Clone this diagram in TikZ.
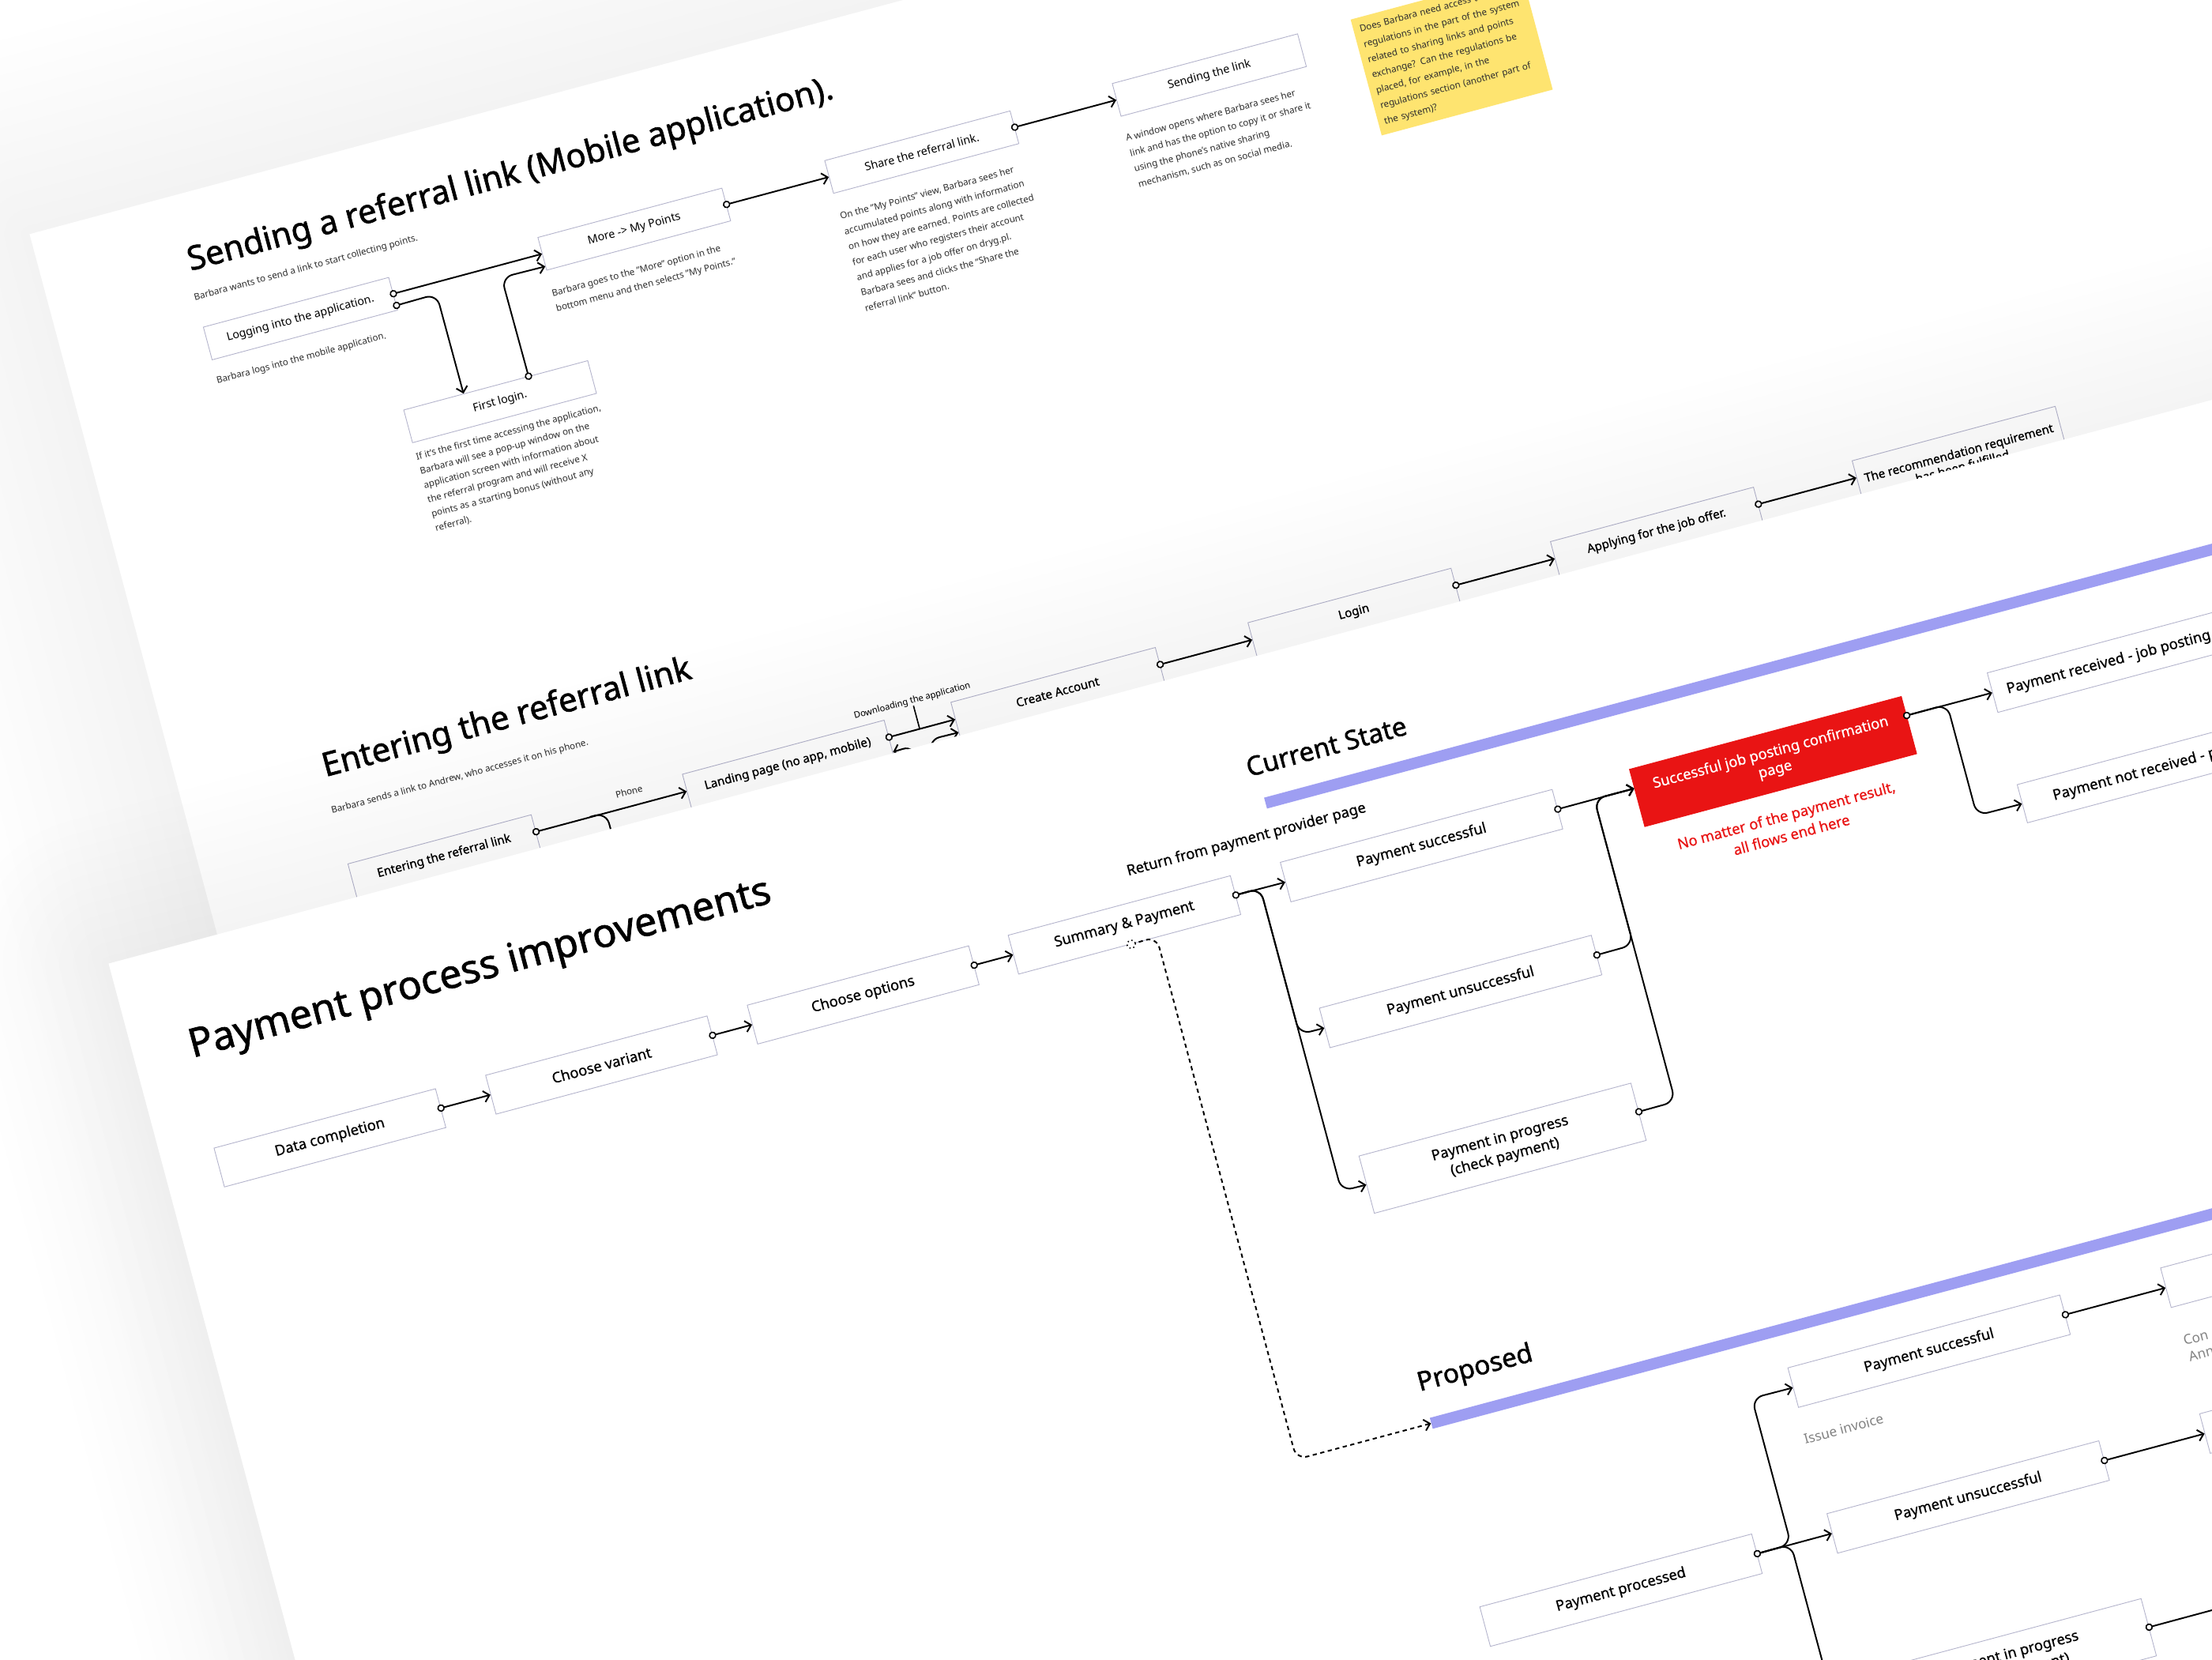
\documentclass[tikz,border=0pt]{standalone}
\usepackage{fontspec}
\setmainfont{Noto Sans}
\newfontfamily\titlefont[FakeBold=1.4]{Noto Sans}
\newfontfamily\labelfont[FakeBold=0.6]{Noto Sans}
\usetikzlibrary{arrows.meta,calc}
\definecolor{boxline}{RGB}{180,180,204}
\definecolor{barpurple}{RGB}{158,158,242}
\definecolor{redbox}{RGB}{233,20,20}
\definecolor{stickyyellow}{RGB}{254,228,112}
\definecolor{desctext}{RGB}{45,45,45}
\definecolor{softgray}{RGB}{130,130,130}
\newcommand{\fsz}[2]{\fontsize{#1}{#2}\selectfont}
\begin{document}
\begin{tikzpicture}[x=1pt,y=-1pt,
  stepbox/.style={draw=boxline, line width=0.5pt, fill=white, anchor=north west, inner sep=0pt, align=center},
  sendbox/.style={stepbox, font=\fsz{8}{10}\bfseries, minimum height=24pt},
  entbox/.style={stepbox, font=\labelfont\fsz{8.5}{10}, minimum height=25pt},
  paybox/.style={stepbox, font=\labelfont\fsz{10.3}{13.5}, minimum height=29pt, minimum width=199.5pt},
  conn/.style={line width=1.1pt, -{Straight Barb[length=4pt,width=8pt]}, rounded corners=8pt},
  plainline/.style={line width=1.1pt, rounded corners=8pt},
  dotc/.style={line width=0.9pt, fill=white},
  desc/.style={anchor=north west, inner sep=0pt, align=left, text=desctext, font=\fsz{6.5}{11.3}},
  oneline/.style={anchor=base west, inner sep=0pt, text=desctext, font=\fsz{6.5}{8}},
  bigtitle/.style={anchor=base west, inner sep=0pt, font=\titlefont\fsz{23.5}{28}},
  bar/.style={fill=barpurple, anchor=west, minimum width=1500pt, minimum height=8pt, inner sep=0pt},
  paytext/.style={anchor=base west, inner sep=0pt, font=\labelfont\fsz{10.3}{12}},
]
\useasboundingbox (0,0) rectangle (1568,1176);
\clip (0,0) rectangle (1568,1176);
\fill[white] (0,0) rectangle (1568,1176);
\begin{scope}[rotate=15, transform shape]
% ---------------- sheet 1 ----------------
\foreach \w in {12,36,...,276} {
  \draw[line width=\w pt, draw=black, opacity=0.0055, line join=round] (-22.7,165.7) -- (3000,165.7) -- (3000,3000) -- (-22.7,3000) -- cycle;
}
\fill[white] (-22.7,165.7) -- (3000,165.7) -- (3000,3000) -- (-22.7,3000) -- cycle;

% Sending a referral link
\node[bigtitle] (t1) at (80.7,220.4) {Sending a referral link (Mobile application).};
\node[oneline] (s1) at (78.2,241.4) {Barbara wants to send a link to start collecting points.};
\node[sendbox, minimum width=136pt] (log) at (79,261) {Logging into the application.};
\node[oneline] (d1) at (78.3,302.6) {Barbara logs into the mobile application.};
\node[sendbox, minimum width=135pt] (more) at (324.5,261) {More -> My Points};
\node[desc] (d2) at (324,299.3) {Barbara goes to the "More" option in the\\bottom menu and then selects "My Points."};
\node[sendbox, minimum width=136pt] (share) at (535,261) {Share the referral link.};
\node[desc] (d3) at (535.5,299.3) {On the "My Points" view, Barbara sees her\\accumulated points along with information\\on how they are earned. Points are collected\\for each user who registers their account\\and applies for a job offer on dryg.pl.\\Barbara sees and clicks the "Share the\\referral link" button.};
\node[sendbox, minimum width=136pt] (sendl) at (746,261) {Sending the link};
\node[desc] (d4) at (745.5,298.3) {A window opens where Barbara sees her\\link and has the option to copy it or share it\\using the phone's native sharing\\mechanism, such as on social media.};
\node[sendbox, minimum width=135pt] (first) at (201,354.5) {First login.};
\node[desc, font=\fsz{6.5}{10.5}] (d5) at (201,386.2) {If it's the first time accessing the application,\\Barbara will see a pop-up window on the\\application screen with information about\\the referral program and will receive X\\points as a starting bonus (without any\\referral).};

\coordinate (logA) at (log.east);
\coordinate (logB) at ($(log.east)!0.7!(log.south east)$);
\coordinate (firstIn) at ($(first.north west)!0.326!(first.north east)$);
\coordinate (firstOut) at ($(first.north west)!0.678!(first.north east)$);
\coordinate (moreIn) at ($(more.west)!0.75!(more.south west)$);
\coordinate (k1) at (245,281.4);
\coordinate (k2) at (292.5,282);
\draw[conn] (logA) -- (more.west);
\draw[conn] (logB) -- (k1) -- (firstIn);
\draw[conn] (firstOut) -- (k2) -- (moreIn);
\draw[conn] (more.east) -- (share.west);
\draw[conn] (share.east) -- (sendl.west);
\foreach \p in {logA,logB,firstOut,more.east,share.east} \draw[dotc] (\p) circle (2.2pt);

% sticky note
\node[fill=stickyyellow, anchor=north west, minimum width=125.5pt, minimum height=85pt, inner xsep=4.5pt, inner ysep=0pt, text width=116.5pt, align=left, text=desctext, font=\fsz{6.5}{11.25}] (sticky) at (921,261) {Does Barbara need access to the\\regulations in the part of the system\\related to sharing links and points\\exchange? Can the regulations be\\placed, for example, in the\\regulations section (another part of\\the system)?};

% Entering the referral link
\node[bigtitle] (t2) at (80.1,591.6) {Entering the referral link};
\node[oneline] (s2) at (78,618) {Barbara sends a link to Andrew, who accesses it on his phone.};
\node[entbox, minimum width=134.5pt] (ent) at (79.5,655) {Entering the referral link};
\node[entbox, minimum width=148pt] (land) at (325,655) {Landing page (no app, mobile)};
\node[entbox, minimum width=150pt] (create) at (522,655) {Create Account};
\node[entbox, minimum width=149pt] (login) at (740,655) {Login};
\node[entbox, minimum width=149pt] (apply) at (962,655) {Applying for the job offer.};
\node[entbox, minimum width=149pt, minimum height=38pt] (recom) at (1183.4,655) {The recommendation requirement\\has been fulfilled};

\draw[conn] (ent.east) -- (land.west);
\node[inner sep=0pt, text=desctext, font=\fsz{6.5}{8}] (phone) at (285.5,657.3) {Phone};
\draw[plainline] (254,667.5) -- (266,667.5) -- (266,700);
\draw[conn] (land.east) -- (create.west);
\node[anchor=base, inner sep=0pt, font=\fsz{6.3}{8}\bfseries] (dl) at (496,649) {Downloading the application};
\draw[line width=0.9pt] (dl.south) -- ++(0,16.5);
\coordinate (landIn) at ($(land.east)!0.85!(land.south east)$);
\coordinate (createIn) at ($(create.west)!0.75!(create.south west)$);
\draw[conn] (489,705) -- (489,678.1) -- (landIn);
\draw[conn] (500,705) -- (500,676.9) -- (createIn);
\draw[conn] (create.east) -- (login.west);
\draw[conn] (login.east) -- (apply.west);
\coordinate (recIn) at ($(recom.north west)!0.33!(recom.south west)$);
\draw[conn] (apply.east) -- (recIn);
\foreach \p in {ent.east,land.east,create.east,login.east,apply.east} \draw[dotc] (\p) circle (2.2pt);

% ---------------- sheet 3 ----------------
\foreach \w in {10,30,...,210} {
  \draw[line width=\w pt, draw=black, opacity=0.0032, line join=round] (-102.4,679.6) -- (3000,679.6) -- (3000,3000) -- (-102.4,3000) -- cycle;
}
\fill[white] (-102.4,679.6) -- (3000,679.6) -- (3000,3000) -- (-102.4,3000) -- cycle;

\node[anchor=base west, inner sep=0pt, font=\titlefont\fsz{28.2}{33}] (t3) at (-62.3,759.5) {Payment process improvements};
\node[paybox, minimum width=162.5pt, minimum height=28.5pt] (data) at (-64.3,825) {Data completion};
\node[paybox, minimum width=162.5pt, minimum height=28.5pt] (variant) at (135,825) {Choose variant};
\node[paybox, minimum width=162.5pt, minimum height=28.5pt] (options) at (327,825) {Choose options};
\node[paybox, minimum width=163pt, minimum height=28.5pt] (summ) at (518.5,825) {Summary \& Payment};
\draw[conn] (data.east) -- (variant.west);
\draw[conn] (variant.east) -- (options.west);
\draw[conn] (options.east) -- (summ.west);
\node[paytext] (ret) at (611.7,806.5) {Return from payment provider page};

% current state
\node[bar] (cbar) at (719,782) {};
\node[anchor=base west, inner sep=0pt, font=\titlefont\fsz{18.7}{22}] (cur) at (712.5,761) {Current State};
\node[paybox] (cps) at (718.2,825) {Payment successful};
\node[paybox] (cpu) at (718.2,932) {Payment unsuccessful};
\node[paybox, minimum height=42pt] (cpip) at (718.2,1040.5) {Payment in progress\\(check payment)};
\draw[conn] (summ.east) -- (cps.west);
\draw[conn] (summ.east) -- (700,839.3) -- (700,946.5) -- (cpu.west);
\draw[conn] (summ.east) -- (700,839.3) -- (700,1061.5) -- (cpip.west);

\node[stepbox, fill=redbox, draw=redbox, text=white, font=\labelfont\fsz{10.3}{12.5}, minimum width=199.5pt, minimum height=42pt] (red) at (974.3,825.4) {Successful job posting confirmation\\page};
\coordinate (redIn) at ($(red.north west)!0.335!(red.south west)$);
\coordinate (redOut) at ($(red.north east)!0.335!(red.south east)$);
\draw[conn] (cps.east) -- (redIn);
\draw[conn] (cpu.east) -- (945,946.5) -- (945,839.5) -- (redIn);
\draw[conn] (cpip.east) -- (945,1061.5) -- (945,839.5) -- (redIn);
\node[anchor=north, inner sep=0pt, text=redbox, align=center, font=\labelfont\fsz{10.3}{14.3}] (rednote) at (1073.5,881.5) {No matter of the payment result,\\all flows end here};

\node[paybox, minimum width=300pt] (pr) at (1237,825) {};
\node[paytext] (prt) at (1247.5,843.2) {Payment received - job posting a};
\node[paybox, minimum width=300pt, minimum height=28pt] (pnr) at (1237,907) {};
\node[paytext] (pnrt) at (1259.6,924.7) {Payment not received - p};
\draw[conn] (redOut) -- (pr.west);
\draw[conn] (redOut) -- (1204,839.5) -- (1204,921) -- (pnr.west);

% proposed
\node[bar] (pbar) at (718.7,1237) {};
\node[anchor=base west, inner sep=0pt, font=\titlefont\fsz{18.7}{22}] (prop) at (716.8,1213) {Proposed};
\coordinate (sd) at ($(summ.south west)!0.507!(summ.south east)$);
\draw[line width=1.1pt, dash pattern=on 3pt off 2.5pt, -{Straight Barb[length=4pt,width=8pt]}, rounded corners=8pt] (sd) -- (620,853.5) -- (620,1237) -- (pbar.west);
\draw[line width=0.9pt, dotted, fill=white] (sd) circle (3pt);

\node[paybox] (pp) at (718.2,1371.3) {Payment processed};
\node[paybox] (pps) at (973,1264.2) {Payment successful};
\node[paybox] (ppu) at (973,1371.2) {Payment unsuccessful};
\node[paybox, minimum height=42pt] (ppip) at (973,1487) {Payment in progress\\(check payment)};
\node[anchor=base west, inner sep=0pt, text=softgray, font=\fsz{9.6}{12}] (inv) at (971,1320) {Issue invoice};
\draw[conn] (pp.east) -- (ppu.west);
\draw[conn] (pp.east) -- (943,1385.8) -- (943,1278.7) -- (pps.west);
\draw[conn] (pp.east) -- (943,1385.8) -- (943,1508) -- (ppip.west);
\node[paybox, minimum width=200pt] (r1) at (1246.5,1264.2) {};
\node[paybox, minimum width=200pt] (r2) at (1246.5,1371.2) {};
\node[anchor=base west, inner sep=0pt, text=softgray, font=\fsz{9.6}{12}] (con) at (1249,1322) {Con};
\node[anchor=base west, inner sep=0pt, text=softgray, font=\fsz{9.6}{12}] (ann) at (1249.7,1334) {Ann};
\coordinate (offR) at (1320,1508);
\draw[conn] (pps.east) -- (r1.west);
\draw[conn] (ppu.east) -- (r2.west);
\draw[plainline] (ppip.east) -- (offR);

\foreach \p in {data.east,variant.east,options.east,summ.east,cps.east,cpu.east,cpip.east,redOut,pp.east,pps.east,ppu.east,ppip.east} \draw[dotc] (\p) circle (2.2pt);
\end{scope}
\end{tikzpicture}
\end{document}
